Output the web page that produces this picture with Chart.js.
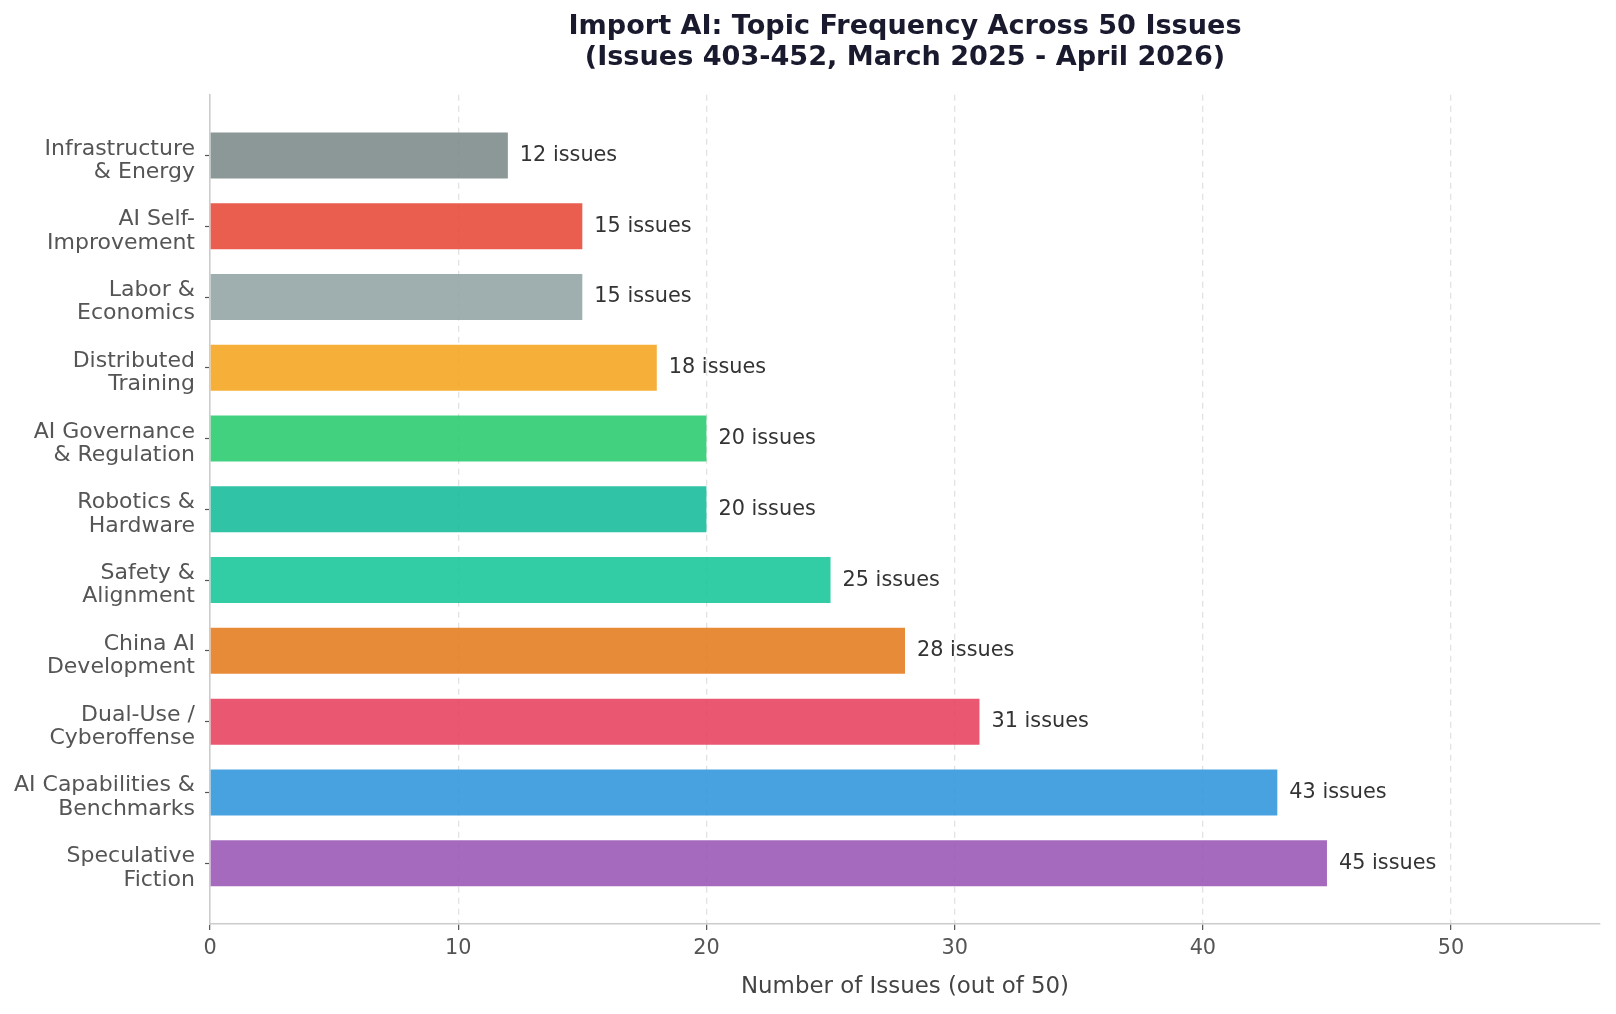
<!DOCTYPE html>
<html>
<head>
<meta charset="utf-8">
<title>Import AI topic frequency</title>
<script src="https://cdn.jsdelivr.net/npm/chart.js@4.4.1/dist/chart.umd.min.js"></script>
<style>
  html, body { margin: 0; padding: 0; background: #fff; }
  canvas { display: block; }
</style>
</head>
<body>
<canvas id="topics" width="1616" height="1014"></canvas>
<script>
// top-to-bottom, as in the picture
const categories = [
  ["Infrastructure", "& Energy"],
  ["AI Self-", "Improvement"],
  ["Labor &", "Economics"],
  ["Distributed", "Training"],
  ["AI Governance", "& Regulation"],
  ["Robotics &", "Hardware"],
  ["Safety &", "Alignment"],
  ["China AI", "Development"],
  ["Dual-Use /", "Cyberoffense"],
  ["AI Capabilities &", "Benchmarks"],
  ["Speculative", "Fiction"],
];
const issueCounts = [12, 15, 15, 18, 20, 20, 25, 28, 31, 43, 45];
const xTicks = [0, 10, 20, 30, 40, 50];

const barColors = [
  "rgba(127,140,141,0.9)",
  "rgba(231,76,60,0.9)",
  "rgba(149,165,166,0.9)",
  "rgba(245,166,35,0.9)",
  "rgba(46,204,113,0.9)",
  "rgba(26,188,156,0.9)",
  "rgba(29,200,155,0.9)",
  "rgba(230,126,34,0.9)",
  "rgba(232,69,96,0.9)",
  "rgba(52,152,219,0.9)",
  "rgba(155,89,182,0.9)",
];

const FONT = "'DejaVu Sans', sans-serif";

// "NN issues" text next to each bar
const valueLabels = {
  id: "valueLabels",
  afterDatasetsDraw(chart) {
    const { ctx } = chart;
    const meta = chart.getDatasetMeta(0);
    ctx.save();
    ctx.font = "20.8px " + FONT;
    ctx.fillStyle = "#333";
    ctx.textAlign = "left";
    ctx.textBaseline = "middle";
    meta.data.forEach((bar, i) => {
      ctx.fillText(issueCounts[i] + " issues", bar.x + 12, bar.y);
    });
    ctx.restore();
  },
};

new Chart(document.getElementById("topics"), {
  type: "bar",
  data: {
    datasets: [{
      data: issueCounts.map((v, i) => ({ x: v, y: i })),
      backgroundColor: barColors,
      borderWidth: 0,
      categoryPercentage: 1,
      barPercentage: 0.65,
    }],
  },
  options: {
    indexAxis: "y",
    responsive: false,
    animation: false,
    devicePixelRatio: 1,
    layout: { padding: { left: 0, right: 16, top: 0, bottom: 0 } },
    plugins: {
      legend: { display: false },
      tooltip: { enabled: false },
      title: {
        display: true,
        fullSize: false,
        text: [
          "Import AI: Topic Frequency Across 50 Issues",
          "(Issues 403-452, March 2025 - April 2026)",
        ],
        color: "#1a1a2e",
        font: { family: FONT, size: 27.1, weight: "bold", lineHeight: 1.12 },
        padding: { top: 12, bottom: 22 },
      },
    },
    scales: {
      x: {
        type: "linear",
        min: 0,
        max: 56,
        afterBuildTicks: (scale) => { scale.ticks = xTicks.map((v) => ({ value: v })); },
        afterFit: (scale) => { scale.height = 90; },
        ticks: {
          color: "#555",
          font: { family: FONT, size: 20.8 },
          padding: 6,
        },
        grid: {
          color: (c) => (c.tick && c.tick.value === 0 ? "rgba(0,0,0,0)" : "#e2e2e2"),
          lineWidth: 1.3,
          tickColor: "#555",
          tickLength: 6,
          tickWidth: 1.2,
        },
        border: { color: "#cccccc", width: 1.6, dash: [6, 5] },
        title: {
          display: true,
          text: "Number of Issues (out of 50)",
          color: "#444",
          font: { family: FONT, size: 22.9 },
          padding: { top: 0, bottom: 13 },
        },
      },
      y: {
        type: "linear",
        reverse: true,
        offset: false,
        min: -0.86,
        max: 10.86,
        afterBuildTicks: (scale) => { scale.ticks = categories.map((c, i) => ({ value: i })); },
        afterFit: (scale) => { scale.width = 210; },
        ticks: {
          color: "#555",
          font: { family: FONT, size: 22, lineHeight: 1.06 },
          padding: 10,
          labelOffset: 5,
          callback: (v) => categories[v],
        },
        grid: {
          offset: false,
          drawOnChartArea: false,
          tickColor: "#555",
          tickLength: 5,
          tickWidth: 1.2,
        },
        border: { color: "#cccccc", width: 1.6 },
      },
    },
  },
  plugins: [valueLabels],
});
</script>
</body>
</html>
